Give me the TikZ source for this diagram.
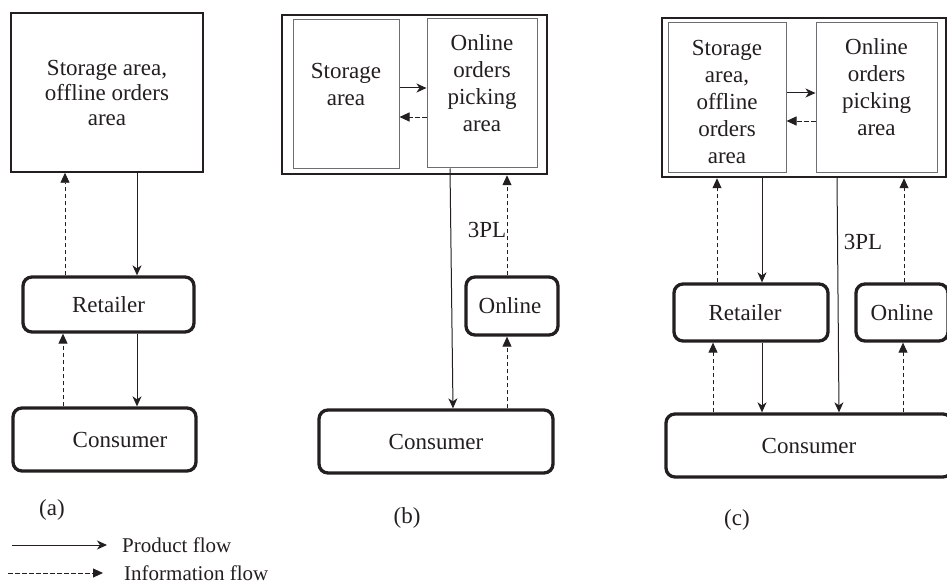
\documentclass[tikz,border=0pt]{standalone}
\usepackage{fontspec}
\setmainfont{Liberation Serif}
\usetikzlibrary{arrows.meta}
\definecolor{ink}{HTML}{231F20}
\definecolor{innerc}{HTML}{6D6E71}
\tikzset{
  plainbox/.style={draw=ink, line width=1.5pt, inner sep=0pt},
  outerbox/.style={draw=ink, line width=2.5pt, inner sep=0pt},
  innerbox/.style={draw=innerc, line width=1pt, inner sep=0pt},
  roundbox/.style={draw=ink, line width=3.3pt, rounded corners=9pt, inner sep=0pt, text=ink},
  txt/.style={align=center, inner sep=0pt, text=ink},
  legendtxt/.style={inner sep=0pt, text=ink, anchor=west, font=\fontsize{21}{24}\selectfont},
  prod/.style={draw=ink, line width=1pt, -{Stealth[length=10pt,width=9pt,inset=3pt]}},
  info/.style={draw=ink, line width=0.9pt, dash pattern=on 4.5pt off 2.5pt, -{Triangle[length=10pt,width=9pt]}}
}
\begin{document}
\begin{tikzpicture}[x=1pt, y=-1pt, font=\fontsize{23}{27}\selectfont]
\useasboundingbox (0,0) rectangle (947,588);
\fill[white] (0,0) rectangle (947,588);
\clip (0,0) rectangle (947,588);

% ---------- (a) ----------
\node[plainbox, txt, minimum width=192pt, minimum height=159pt, font=\fontsize{23}{25}\selectfont] (topA) at (107,92.5) {Storage area,\\offline orders\\area};
\node[roundbox, minimum width=171pt, minimum height=55pt] (retA) at (108.5,304.5) {Retailer};
\node[roundbox, minimum width=183pt, minimum height=63pt] (conA) at (104.5,439.5) {\hspace*{31pt}Consumer};
\draw[info] ([xshift=-43.5pt]retA.north) -- ([xshift=-42pt]topA.south);
\draw[prod] ([xshift=30pt]topA.south) -- ([xshift=28.5pt]retA.north);
\draw[info] ([xshift=-41.5pt]conA.north) -- ([xshift=-45.5pt]retA.south);
\draw[prod] ([xshift=28.5pt]retA.south) -- ([xshift=32.5pt]conA.north);
\node[txt] (labA) at (52,510) {(a)};

% ---------- (b) ----------
\node[outerbox, minimum width=265pt, minimum height=159pt] (outB) at (414.5,94.5) {};
\node[innerbox, minimum width=106pt, minimum height=149pt] (stB) at (346,94.5) {};
\node[txt] (stBt) at ([yshift=10pt]stB.center) {Storage\\area};
\node[innerbox, minimum width=110pt, minimum height=149pt] (onB) at (482,93.5) {};
\node[txt] (onBt) at ([yshift=10.5pt]onB.center) {Online\\orders\\picking\\area};
\draw[prod] ([yshift=6.5pt]stB.east) -- ([yshift=5.5pt]onB.west);
\draw[info] ([yshift=-23.5pt]onB.west) -- ([yshift=-22.5pt]stB.east);
\node[roundbox, minimum width=92pt, minimum height=58pt] (olB) at (512,306) {\hspace*{-4pt}Online};
\node[roundbox, minimum width=234pt, minimum height=63pt] (conB) at (436,441.5) {Consumer};
\draw[prod] ([xshift=-32pt]onB.south) -- ([xshift=17pt]conB.north);
\draw[info] ([xshift=-5pt]olB.north) -- ([xshift=92.5pt]outB.south);
\draw[info] ([xshift=71pt]conB.north) -- ([xshift=-5pt]olB.south);
\node[txt] (tplB) at (487,230) {3PL};
\node[txt] (labB) at (407,518) {(b)};

% ---------- (c) ----------
\node[outerbox, minimum width=284pt, minimum height=159pt] (outC) at (804,97.5) {};
\node[innerbox, minimum width=118pt, minimum height=150pt] (stC) at (727,98) {};
\node[txt] (stCt) at ([yshift=-3.5pt]stC.center) {Storage\\area,\\offline\\orders\\area};
\node[innerbox, minimum width=121pt, minimum height=150pt] (onC) at (876.5,98) {};
\node[txt] (onCt) at ([yshift=10.5pt]onC.center) {Online\\orders\\picking\\area};
\draw[prod] ([yshift=5pt]stC.east) -- ([yshift=5pt]onC.west);
\draw[info] ([yshift=-23pt]onC.west) -- ([yshift=-23pt]stC.east);
\node[roundbox, minimum width=154pt, minimum height=57pt] (retC) at (751,312.5) {\hspace*{-12pt}Retailer};
\node[roundbox, minimum width=92pt, minimum height=57pt] (olC) at (902,312.5) {Online};
\node[roundbox, minimum width=286pt, minimum height=63pt] (conC) at (809,445.5) {Consumer};
\draw[info] ([xshift=-34pt]retC.north) -- ([xshift=-87pt]outC.south);
\draw[prod] ([xshift=-42pt]outC.south) -- ([xshift=11pt]retC.north);
\draw[prod] ([xshift=33pt]outC.south) -- ([xshift=30pt]conC.north);
\draw[info] ([xshift=2pt]olC.north) -- ([xshift=100pt]outC.south);
\draw[info] ([xshift=-96pt]conC.north) -- ([xshift=-38pt]retC.south);
\draw[prod] ([xshift=11pt]retC.south) -- ([xshift=-47pt]conC.north);
\draw[info] ([xshift=94pt]conC.north) -- ([xshift=1pt]olC.south);
\node[txt] (tplC) at (863,242) {3PL};
\node[txt] (labC) at (737,520) {(c)};

% ---------- legend ----------
\coordinate (pa) at (12,545);
\coordinate (pb) at (107,545);
\draw[prod] (pa) -- (pb);
\node[legendtxt] (pl) at (122,545) {Product flow};
\coordinate (ia) at (8,573);
\coordinate (ib) at (103,573);
\draw[info] (ia) -- (ib);
\node[legendtxt] (il) at (124,573) {Information flow};
\end{tikzpicture}
\end{document}
